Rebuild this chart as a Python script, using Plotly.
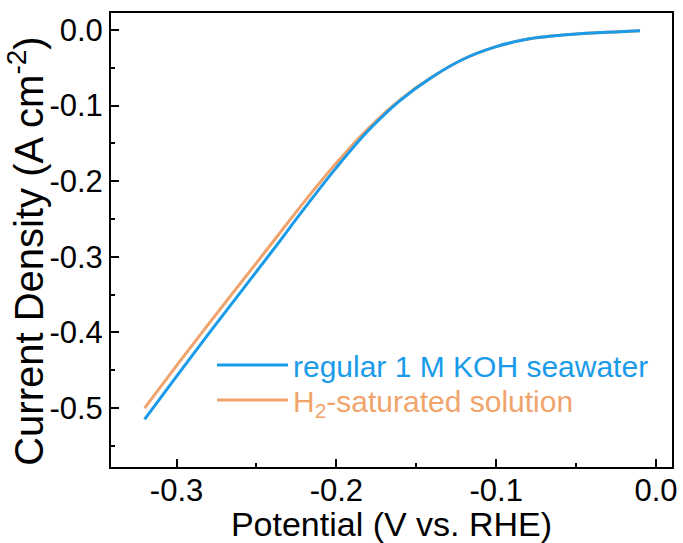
import plotly.graph_objects as go

# Potential (V vs. RHE)
potential = [-0.32, -0.30, -0.28, -0.26, -0.24, -0.22, -0.20, -0.18, -0.16,
             -0.14, -0.12, -0.10, -0.08, -0.06, -0.04, -0.02, -0.01]
# Current density (A cm^-2), regular 1 M KOH seawater
j_regular = [-0.515, -0.458, -0.402, -0.347, -0.292, -0.236, -0.182, -0.133, -0.093,
             -0.062, -0.038, -0.022, -0.012, -0.007, -0.004, -0.002, -0.001]
# Current density (A cm^-2), H2-saturated solution
j_h2 = [-0.500, -0.444, -0.389, -0.335, -0.281, -0.227, -0.176, -0.130, -0.092,
        -0.062, -0.038, -0.022, -0.012, -0.007, -0.004, -0.002, -0.001]

x_ticks = [-0.3, -0.2, -0.1, 0.0]
x_tick_labels = ["-0.3", "-0.2", "-0.1", "0.0"]
y_ticks = [0.0, -0.1, -0.2, -0.3, -0.4, -0.5]
y_tick_labels = ["0.0", "-0.1", "-0.2", "-0.3", "-0.4", "-0.5"]

BLUE = "#1A9BEA"
ORANGE = "#F0A46C"
FONT = "Arial, Liberation Sans, sans-serif"

fig = go.Figure()
fig.add_trace(go.Scatter(
    x=potential, y=j_h2, mode="lines", line=dict(color=ORANGE, width=3, shape="spline"),
    name=f"<span style='color:{ORANGE}'>H<sub>2</sub>-saturated solution</span>",
    legend="legend2"))
fig.add_trace(go.Scatter(
    x=potential, y=j_regular, mode="lines", line=dict(color=BLUE, width=3, shape="spline"),
    name=f"<span style='color:{BLUE}'>regular 1 M KOH seawater</span>",
    legend="legend"))

axis_common = dict(
    showgrid=False, zeroline=False, showline=True, linecolor="black", linewidth=2,
    mirror=True, ticks="inside", ticklen=8, tickwidth=2, tickcolor="black",
    tickfont=dict(family=FONT, size=31, color="black"), automargin=False,
    minor=dict(ticks="inside", ticklen=4, tickwidth=2, tickcolor="black", dtick=0.05),
)

legend_common = dict(xanchor="left", yanchor="top", bgcolor="rgba(0,0,0,0)",
                     font=dict(family=FONT, size=30), itemwidth=71)

fig.update_layout(
    width=683, height=543,
    margin=dict(l=111, r=11, t=13, b=76),
    paper_bgcolor="white", plot_bgcolor="white",
    font=dict(family=FONT, color="black"),
    xaxis=dict(range=[-0.341, 0.010], tickvals=x_ticks, ticktext=x_tick_labels,
               ticklabelstandoff=-5,
               title=dict(text="Potential (V vs. RHE)", font=dict(family=FONT, size=34),
                          standoff=4),
               **axis_common),
    yaxis=dict(range=[-0.578, 0.0225], tickvals=y_ticks, ticktext=y_tick_labels,
               **axis_common),
    legend=dict(x=0.18, y=0.282, **legend_common),
    legend2=dict(x=0.18, y=0.205, **legend_common),
    showlegend=True,
    annotations=[dict(
        text="Current Density (A cm<sup>-2</sup>)", textangle=-90,
        xref="paper", yref="paper", x=-0.1515, y=0.474,
        xanchor="center", yanchor="middle", showarrow=False,
        font=dict(family=FONT, size=40, color="black"))],
)

fig.write_html("out.html", config={"displayModeBar": False},
               post_script="document.body.style.margin='0px';")
